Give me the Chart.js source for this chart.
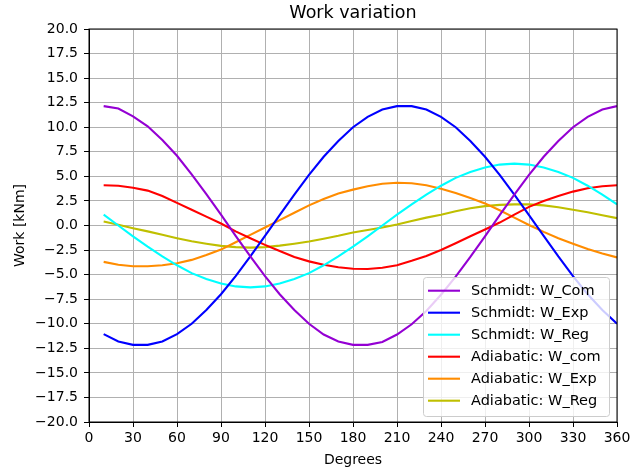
<!DOCTYPE html>
<html>
<head>
<meta charset="utf-8">
<script src="https://cdn.jsdelivr.net/npm/chart.js@4"></script>
<style>
  html, body { margin: 0; padding: 0; background: #fff; }
  #wrap { width: 630px; height: 472px; }
</style>
</head>
<body>
<div id="wrap"><canvas id="work" width="630" height="472"></canvas></div>
<script>
// ===== WORK VARIATION CHART =====

// crank angle, every 10 degrees
const degrees = [10, 20, 30, 40, 50, 60, 70, 80, 90, 100, 110, 120,
  130, 140, 150, 160, 170, 180, 190, 200, 210, 220, 230, 240,
  250, 260, 270, 280, 290, 300, 310, 320, 330, 340, 350, 360];

const schmidtCom = [12.15, 11.9, 11.1, 10.1, 8.7, 7.1, 5.2, 3.2, 1.1, -1.05, -3.15, -5.15,
  -7.0, -8.6, -10.0, -11.1, -11.8, -12.15, -12.15, -11.85, -11.1, -10.05, -8.7, -7.05,
  -5.2, -3.2, -1.1, 1.05, 3.15, 5.15, 7.0, 8.6, 10.0, 11.05, 11.8, 12.15];

const schmidtExp = [-11.05, -11.8, -12.15, -12.15, -11.8, -11.05, -10.0, -8.6, -7.0, -5.15, -3.15, -1.05,
  1.05, 3.15, 5.15, 7.0, 8.6, 10.0, 11.05, 11.8, 12.15, 12.15, 11.8, 11.05,
  10.0, 8.6, 7.0, 5.15, 3.15, 1.05, -1.05, -3.15, -5.15, -7.0, -8.6, -10.0];

const schmidtReg = [1.1, 0.0, -1.1, -2.15, -3.15, -4.05, -4.85, -5.45, -5.9, -6.2, -6.3, -6.2,
  -5.9, -5.45, -4.85, -4.05, -3.15, -2.15, -1.1, 0.0, 1.1, 2.15, 3.15, 4.05,
  4.85, 5.45, 5.9, 6.2, 6.3, 6.2, 5.9, 5.45, 4.85, 4.05, 3.15, 2.15];

const adiabCom = [4.1, 4.05, 3.85, 3.55, 3.0, 2.3, 1.6, 0.9, 0.2, -0.6, -1.3, -1.97,
  -2.6, -3.2, -3.65, -4.0, -4.25, -4.4, -4.42, -4.3, -4.05, -3.6, -3.1, -2.5,
  -1.8, -1.1, -0.4, 0.3, 1.1, 1.9, 2.5, 3.0, 3.45, 3.8, 4.0, 4.1];

const adiabExp = [-3.7, -4.0, -4.15, -4.15, -4.05, -3.85, -3.5, -3.0, -2.45, -1.7, -0.95, -0.2,
  0.55, 1.3, 2.05, 2.7, 3.25, 3.65, 4.0, 4.25, 4.35, 4.3, 4.1, 3.75,
  3.3, 2.8, 2.25, 1.55, 0.8, 0.05, -0.65, -1.3, -1.85, -2.4, -2.85, -3.25];

const adiabReg = [0.4, 0.07, -0.27, -0.6, -0.95, -1.29, -1.6, -1.85, -2.07, -2.2, -2.25, -2.2,
  -2.05, -1.85, -1.63, -1.35, -1.05, -0.71, -0.45, -0.2, 0.1, 0.45, 0.8, 1.1,
  1.45, 1.75, 1.97, 2.1, 2.15, 2.15, 2.05, 1.85, 1.6, 1.35, 1.05, 0.75];

const seriesNames = ['Schmidt: W_Com', 'Schmidt: W_Exp', 'Schmidt: W_Reg',
  'Adiabatic: W_com', 'Adiabatic: W_Exp', 'Adiabatic: W_Reg'];
const seriesValues = [schmidtCom, schmidtExp, schmidtReg, adiabCom, adiabExp, adiabReg];
const seriesColors = ['#9400d3', '#0000ff', '#00ffff', '#ff0000', '#ff8c00', '#bfbf00'];

const FONT = 'DejaVu Sans';
Chart.defaults.font.family = FONT;
Chart.defaults.color = '#000';

const datasets = seriesNames.map((name, i) => ({
  label: name,
  data: degrees.map((d, j) => ({ x: d, y: seriesValues[i][j] })),
  borderColor: seriesColors[i],
  backgroundColor: seriesColors[i],
  borderWidth: 2.1,
  pointRadius: 0,
  tension: 0,
  fill: false
}));

// matplotlib style frame on all four sides
const frame = {
  id: 'frame',
  afterDatasetsDraw(chart) {
    const a = chart.chartArea, ctx = chart.ctx;
    ctx.save();
    ctx.strokeStyle = '#000';
    ctx.lineWidth = 1;
    ctx.strokeRect(a.left, a.top, a.right - a.left, a.bottom - a.top);
    ctx.restore();
  }
};

// legend box inside the plot, lower right
const innerLegend = {
  id: 'innerLegend',
  afterDraw(chart) {
    const a = chart.chartArea, ctx = chart.ctx;
    const w = 186, h = 139, rowH = 22;
    const x = a.right - 8 - w, y = a.bottom - 6 - h;
    ctx.save();
    ctx.beginPath();
    ctx.roundRect(x + 0.5, y + 0.5, w, h, 3);
    ctx.fillStyle = 'rgba(255,255,255,0.8)';
    ctx.fill();
    ctx.strokeStyle = '#cccccc';
    ctx.lineWidth = 1;
    ctx.stroke();
    ctx.font = '14.5px "' + FONT + '"';
    ctx.textBaseline = 'middle';
    chart.data.datasets.forEach((ds, i) => {
      const cy = y + 13.7 + i * rowH;
      ctx.strokeStyle = ds.borderColor;
      ctx.lineWidth = 2.1;
      ctx.beginPath();
      ctx.moveTo(x + 5, cy);
      ctx.lineTo(x + 37, cy);
      ctx.stroke();
      ctx.fillStyle = '#000';
      ctx.fillText(ds.label, x + 48, cy + 0.5);
    });
    ctx.restore();
  }
};

const minus = v => (v < 0 ? '\u2212' : '') + Math.abs(v).toFixed(1);

new Chart(document.getElementById('work'), {
  type: 'line',
  data: { datasets },
  plugins: [frame, innerLegend],
  options: {
    responsive: false,
    animation: false,
    layout: { padding: { left: 0, right: 13, top: 0, bottom: 0 } },
    plugins: {
      legend: { display: false },
      tooltip: { enabled: false },
      title: {
        display: true, text: 'Work variation', fullSize: false,
        color: '#000', font: { size: 17.5, weight: 'normal' },
        padding: { top: 3, bottom: 5 }
      }
    },
    scales: {
      x: {
        type: 'linear', min: 0, max: 360,
        afterFit(s) { s.height = 50; s.paddingLeft = 0; s.paddingRight = 0; },
        ticks: { stepSize: 30, padding: 3, font: { size: 14 }, color: '#000', maxRotation: 0 },
        grid: { color: '#b0b0b0', lineWidth: 1, tickColor: '#000', tickLength: 5 },
        border: { color: '#000', width: 1 },
        title: { display: true, text: 'Degrees', font: { size: 14 }, color: '#000', padding: { top: 0, bottom: 3 } }
      },
      y: {
        min: -20, max: 20,
        afterFit(s) { s.width = 89; s.paddingTop = 0; s.paddingBottom = 0; },
        ticks: { stepSize: 2.5, padding: 6, font: { size: 14 }, color: '#000', callback: v => minus(v) },
        grid: { color: '#b0b0b0', lineWidth: 1, tickColor: '#000', tickLength: 5 },
        border: { color: '#000', width: 1 },
        title: { display: true, text: 'Work [kNm]', font: { size: 14 }, color: '#000', padding: { top: 12, bottom: 0 } }
      }
    }
  }
});
</script>
</body>
</html>
